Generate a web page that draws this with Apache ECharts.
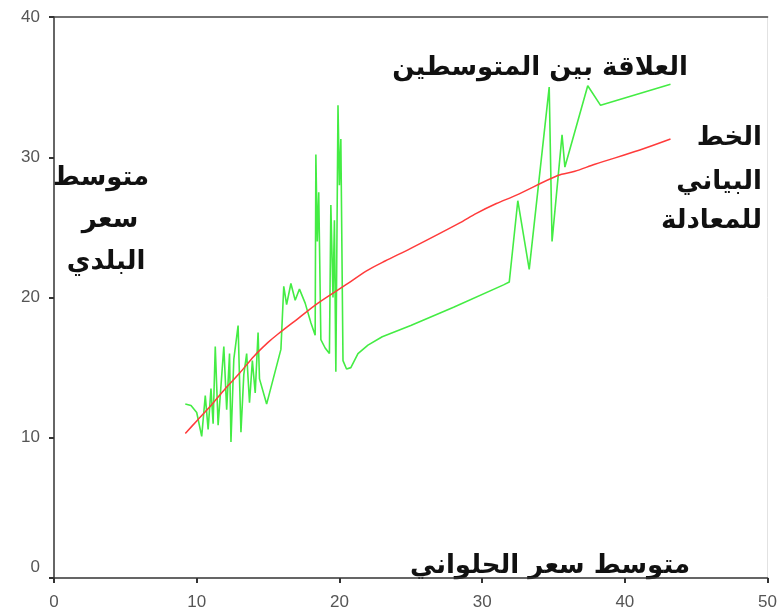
<!DOCTYPE html>
<html>
<head>
<meta charset="utf-8">
<script src="https://cdn.jsdelivr.net/npm/echarts@6/dist/echarts.min.js"></script>
<style>html,body{margin:0;padding:0;background:#fff}#c{width:780px;height:614px}</style>
</head>
<body>
<div id="c"></div>
<script>
// Green: observed relationship between the two means (x, y)
const relationPoints = [
  [9.2,12.4],[9.6,12.3],[10.0,11.8],[10.35,10.1],[10.6,13.0],[10.8,10.6],[11.0,13.5],[11.15,11.0],
  [11.3,16.5],[11.5,10.9],[11.9,16.5],[12.1,12.0],[12.3,16.0],[12.4,9.7],[12.6,15.6],[12.9,18.0],
  [13.1,10.4],[13.3,14.5],[13.5,16.0],[13.7,12.5],[13.9,15.5],[14.1,13.2],[14.3,17.5],[14.4,14.2],
  [14.9,12.4],[15.9,16.3],[16.1,20.8],[16.3,19.5],[16.6,21.0],[16.9,19.8],[17.2,20.6],[17.6,19.6],
  [18.0,18.2],[18.3,17.3],[18.35,30.2],[18.45,24.0],[18.55,27.5],[18.7,17.0],[19.0,16.4],[19.3,16.0],
  [19.4,26.6],[19.55,20.0],[19.65,25.5],[19.75,14.7],[19.9,33.7],[20.0,28.0],[20.1,31.3],[20.25,15.5],
  [20.5,14.9],[20.8,15.0],[21.3,16.0],[22.0,16.6],[23.0,17.2],[25.0,18.0],[28.0,19.3],[31.5,20.9],
  [31.9,21.1],[32.5,26.9],[33.3,22.0],[34.7,35.0],[34.9,24.0],[35.6,31.6],[35.8,29.3],[37.4,35.1],
  [38.3,33.7],[43.2,35.2]
];
// Red: fitted equation curve (x, y)
const fittedPoints = [
  [9.2,10.3],[10,11.2],[11,12.3],[12,13.5],[13,14.6],[14,15.8],[15,16.8],[15.7,17.4],[17.1,18.5],
  [18.5,19.6],[20.6,21.0],[21.9,21.9],[23.2,22.6],[25,23.5],[28.4,25.3],[29.6,26.0],[31,26.7],
  [32.4,27.3],[35.3,28.7],[36.5,29.0],[37.9,29.5],[41,30.5],[43.2,31.3]
];
const xTicks = [0,10,20,30,40,50];
const yTicks = [0,10,20,30,40];

const txt = {
  relation: 'العلاقة بين المتوسطين',
  lineTitle: ['الخط','البياني','للمعادلة'],
  yTitle: ['متوسط','سعر','البلدي'],
  xTitle: 'متوسط سعر الحلواني'
};

const chart = echarts.init(document.getElementById('c'), null, {renderer:'canvas'});
const arabicFont = "'DejaVu Sans', sans-serif";
const tStyle = (s, x, y, align) => ({
  type:'text', x:x, y:y,
  style:{text:s, fill:'#111', font:"bold 26px " + arabicFont, textAlign:align||'center', textVerticalAlign:'middle'}
});

chart.setOption({
  animation:false,
  backgroundColor:'#fff',
  grid:{left:54, right:6, top:17, bottom:36},
  xAxis:[{
    type:'value', min:xTicks[0], max:xTicks[xTicks.length-1], interval:10,
    axisLine:{show:true, onZero:false, lineStyle:{color:'#333', width:1.5}},
    axisTick:{show:true, length:5, inside:false, lineStyle:{color:'#333', width:2}},
    axisLabel:{color:'#555', fontSize:17, fontFamily:'Liberation Sans, Arial', margin:16},
    splitLine:{show:false}
  },{
    type:'value', position:'top', min:0, max:50,
    axisLine:{show:true, onZero:false, lineStyle:{color:'#444', width:1.5}},
    axisTick:{show:false}, axisLabel:{show:false}, splitLine:{show:false}
  }],
  yAxis:[{
    type:'value', min:yTicks[0], max:yTicks[yTicks.length-1], interval:10,
    axisLine:{show:true, onZero:false, lineStyle:{color:'#333', width:1.5}},
    axisTick:{show:true, length:5, lineStyle:{color:'#333', width:2}},
    axisLabel:{
      color:'#555', fontSize:17, fontFamily:'Liberation Sans, Arial', margin:14,
      formatter: v => v === 0 ? '{z|0}' : String(v),
      rich:{z:{color:'#555', fontSize:17, fontFamily:'Liberation Sans, Arial', padding:[0,0,22,0]}}
    },
    splitLine:{show:false}
  },{
    type:'value', position:'right', min:0, max:40,
    axisLine:{show:true, onZero:false, lineStyle:{color:'#e2e2e2', width:1}},
    axisTick:{show:false}, axisLabel:{show:false}, splitLine:{show:false}
  }],
  series:[{
    type:'line', data:relationPoints, showSymbol:false,
    lineStyle:{color:'#44ec44', width:1.6}, z:2
  },{
    type:'line', data:fittedPoints, showSymbol:false, smooth:0.3,
    lineStyle:{color:'#ff3b3b', width:1.5}, z:3
  }],
  graphic:[
    tStyle(txt.relation, 540, 68),
    tStyle(txt.lineTitle[0], 762, 138, 'right'),
    tStyle(txt.lineTitle[1], 762, 182, 'right'),
    tStyle(txt.lineTitle[2], 762, 221, 'right'),
    tStyle(txt.yTitle[0], 101, 178),
    tStyle(txt.yTitle[1], 110, 220),
    tStyle(txt.yTitle[2], 106, 262),
    tStyle(txt.xTitle, 550, 566)
  ]
});
</script>
</body>
</html>
